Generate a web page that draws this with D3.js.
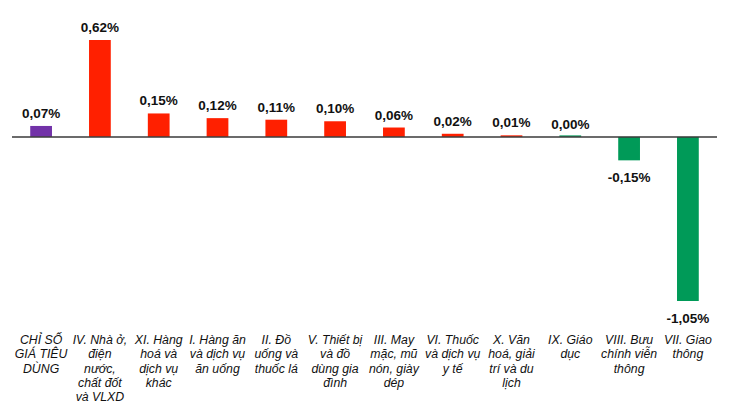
<!DOCTYPE html>
<html><head><meta charset="utf-8">
<script src="https://cdn.jsdelivr.net/npm/d3@7"></script>
<style>body{margin:0;background:#fff}svg{display:block}</style>
</head><body>
<svg id="c" width="730" height="410"></svg>
<script>
const categories = [
  "CHỈ SỐ\nGIÁ TIÊU\nDÙNG",
  "IV. Nhà ở,\nđiện\nnước,\nchất đốt\nvà VLXD",
  "XI. Hàng\nhoá và\ndịch vụ\nkhác",
  "I. Hàng ăn\nvà dịch vụ\năn uống",
  "II. Đồ\nuống và\nthuốc lá",
  "V. Thiết bị\nvà đồ\ndùng gia\nđình",
  "III. May\nmặc, mũ\nnón, giày\ndép",
  "VI. Thuốc\nvà dịch vụ\ny tế",
  "X. Văn\nhoá, giải\ntrí và du\nlịch",
  "IX. Giáo\ndục",
  "VIII. Bưu\nchính viễn\nthông",
  "VII. Giao\nthông"
];
const values = [0.07, 0.62, 0.15, 0.12, 0.11, 0.10, 0.06, 0.02, 0.01, 0.00, -0.15, -1.05];
const valueLabels = ["0,07%","0,62%","0,15%","0,12%","0,11%","0,10%","0,06%","0,02%","0,01%","0,00%","-0,15%","-1,05%"];

const svg = d3.select("#c");
const x = d3.scaleBand().domain(d3.range(categories.length)).range([12, 717]).paddingInner(0.63).paddingOuter(0.31);
const y = d3.scaleLinear().domain([-1.05, 0.62]).range([301, 40]);
const y0 = y(0);

function color(i, v) {
  if (i === 0) return "#7232a8";
  return v > 0 ? "#ff2000" : "#009a58";
}

svg.append("g").selectAll("rect").data(values).join("rect")
  .attr("x", (d, i) => x(i))
  .attr("width", x.bandwidth())
  .attr("y", d => d >= 0 ? Math.min(y(d), y0 - 1.5) : y0)
  .attr("height", d => Math.max(Math.abs(y(d) - y0), 1.5))
  .attr("fill", (d, i) => color(i, d));

svg.append("line").attr("x1", 12).attr("x2", 717).attr("y1", y0).attr("y2", y0)
  .attr("stroke", "#3a3a3a").attr("stroke-width", 1.5);

svg.append("g").selectAll("text").data(values).join("text")
  .attr("x", (d, i) => x(i) + x.bandwidth() / 2)
  .attr("y", d => d >= 0 ? y(d) - 8 : y(d) + 21.5)
  .attr("text-anchor", "middle")
  .attr("font-family", "Liberation Sans, Arial, sans-serif")
  .attr("font-weight", "bold")
  .attr("font-size", "13.5px")
  .attr("fill", "#111")
  .text((d, i) => valueLabels[i]);

const lab = svg.append("g").selectAll("text").data(categories).join("text")
  .attr("x", (d, i) => x(i) + x.bandwidth() / 2)
  .attr("y", 344)
  .attr("text-anchor", "middle")
  .attr("font-family", "Liberation Sans, Arial, sans-serif")
  .attr("font-style", "italic")
  .attr("font-size", "12.3px")
  .attr("fill", "#111");
lab.each(function(d, i) {
  const t = d3.select(this);
  const cx = x(i) + x.bandwidth() / 2;
  d.split("\n").forEach((line, k) => {
    t.append("tspan").attr("x", cx).attr("dy", k === 0 ? 0 : 14.3).text(line);
  });
});
</script>
</body></html>
